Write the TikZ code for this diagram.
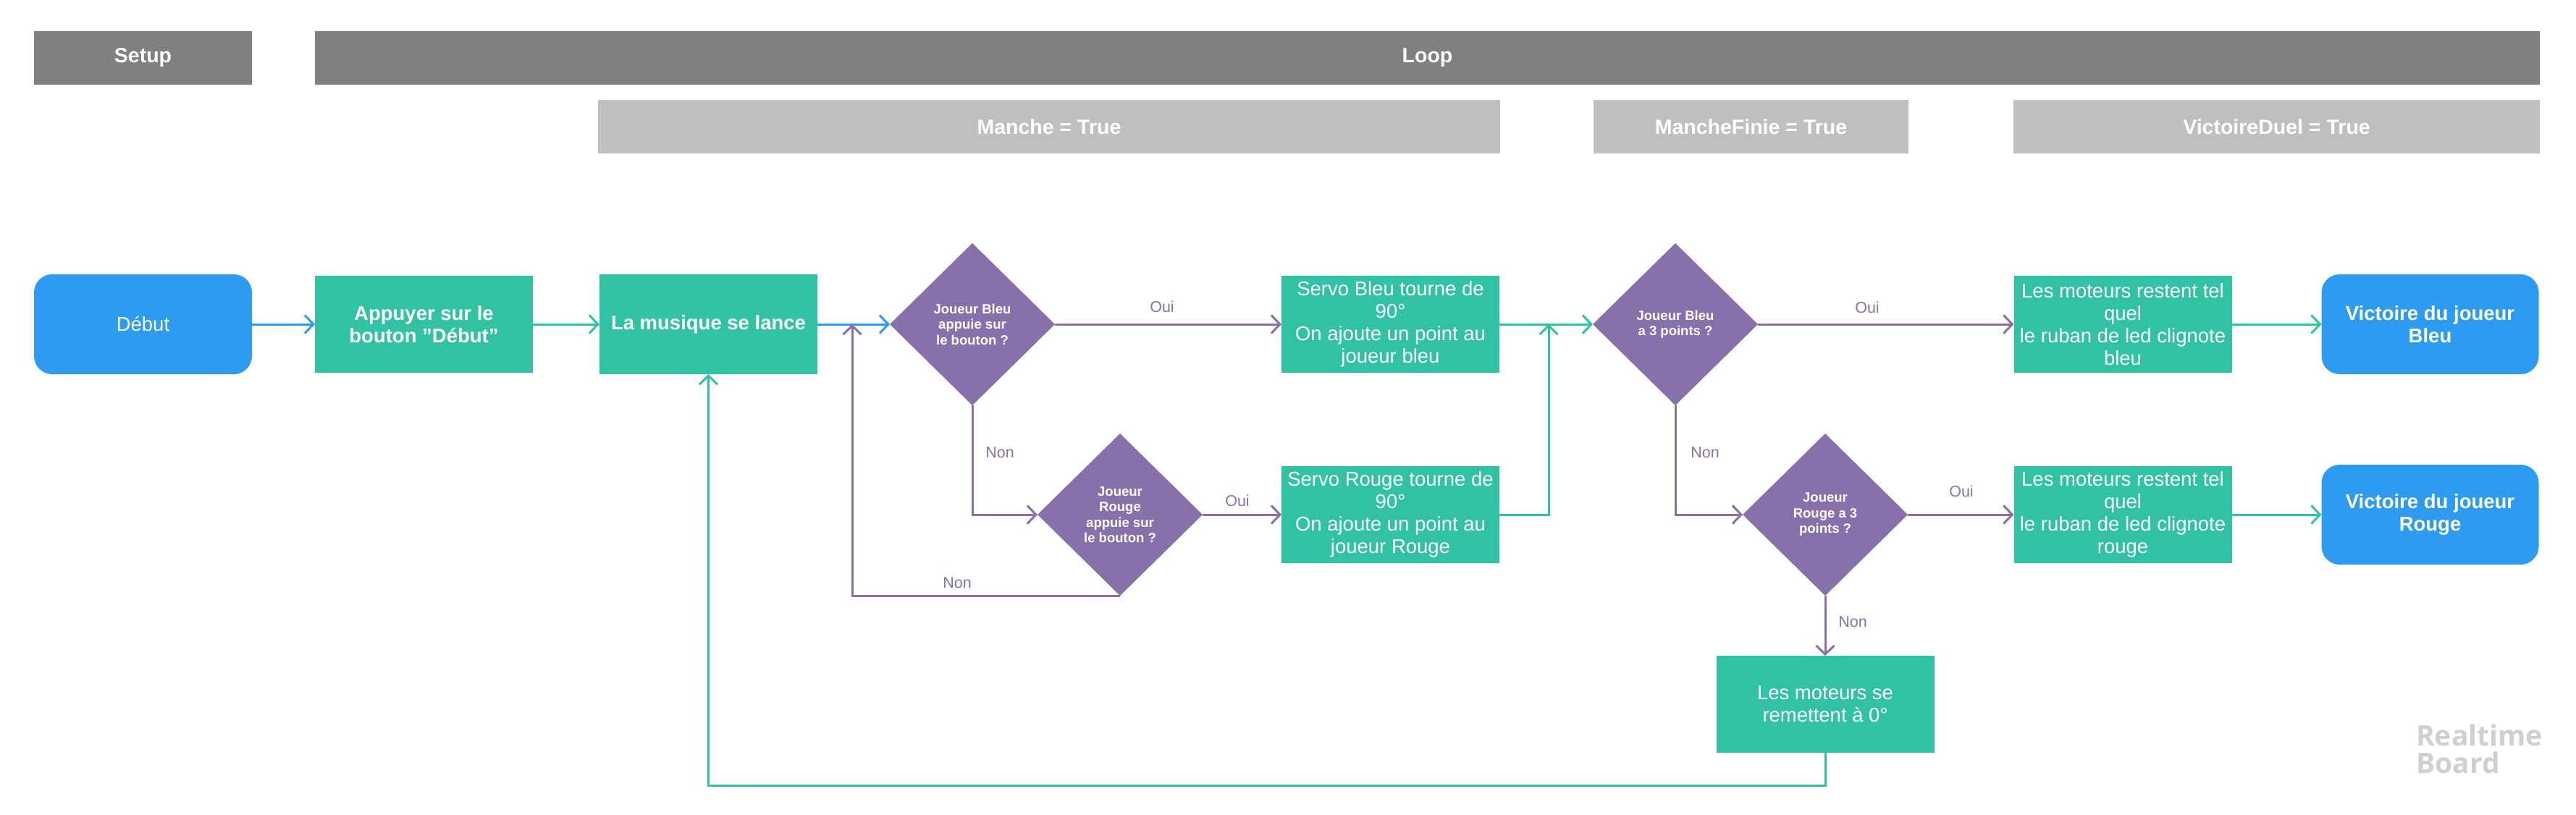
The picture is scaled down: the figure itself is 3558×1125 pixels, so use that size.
\documentclass[tikz,border=0pt]{standalone}
\usepackage{fontspec}
\setmainfont{Liberation Sans}
\newfontfamily\wmfont{Open Sans}
\usetikzlibrary{shapes.geometric,arrows.meta}
\definecolor{rbblue}{HTML}{2D9BF0}
\definecolor{rbteal}{HTML}{31C2A4}
\definecolor{rbpurple}{HTML}{8871AB}
\definecolor{hdark}{HTML}{808080}
\definecolor{hlight}{HTML}{BFBFBF}
\definecolor{wmgray}{HTML}{CFCFCF}
\newcommand\hdrfont{\bfseries\fontsize{28.5}{32}\selectfont}
\newcommand\boxfont{\fontsize{27.5}{31}\selectfont}
\newcommand\bboxfont{\bfseries\fontsize{27.5}{31}\selectfont}
\newcommand\decfont{\bfseries\fontsize{18.5}{21.5}\selectfont}
\newcommand\labfont{\fontsize{21.5}{25}\selectfont}
\tikzset{
  hdr/.style={fill=hdark, text=white, font=\hdrfont, minimum height=74pt, inner sep=0pt, outer sep=0pt},
  subhdr/.style={hdr, fill=hlight},
  term/.style={fill=rbblue, rounded corners=25pt, minimum width=301pt, minimum height=138pt, text=white, align=center, inner sep=0pt, outer sep=0pt, font=\boxfont},
  proc/.style={fill=rbteal, minimum width=301pt, minimum height=134pt, text=white, align=center, inner sep=0pt, outer sep=0pt, font=\boxfont},
  dec/.style={diamond, fill=rbpurple, minimum width=228pt, minimum height=224pt, text=white, align=center, inner sep=0pt, outer sep=0pt, font=\decfont},
  lab/.style={text=rbpurple, font=\labfont, inner sep=0pt},
  conn/.style={line width=3pt, -{Straight Barb[length=12pt,width=25pt]}},
  bconn/.style={conn, draw=rbblue},
  tconn/.style={conn, draw=rbteal},
  pconn/.style={conn, draw=rbpurple},
}
\begin{document}
\begin{tikzpicture}[x=1pt,y=-1pt]
\useasboundingbox (0,0) rectangle (3558,1125);
% headers
\node[hdr, minimum width=301pt] (setup) at (197.5,80) {Setup};
\node[hdr, minimum width=3073pt] (loop) at (1971.5,80) {Loop};
\node[subhdr, minimum width=1246pt] (manche) at (1449,175) {Manche = True};
\node[subhdr, minimum width=435pt] (finie) at (2418.5,175) {MancheFinie = True};
\node[subhdr, minimum width=727pt] (duel) at (3144.5,175) {VictoireDuel = True};
% nodes
\node[term] (debut) at (197.5,448) {Début};
\node[proc, font=\bboxfont] (appuyer) at (585.5,448) {Appuyer sur le\\bouton "Début"};
\node[proc, font=\bboxfont, minimum height=138pt] (musique) at (978.5,448) {La musique se lance};
\node[dec] (d1) at (1343,448) {Joueur Bleu\\appuie sur\\le bouton ?};
\node[dec] (d2) at (1547,711) {Joueur\\Rouge\\appuie sur\\le bouton ?};
\node[proc] (servoB) at (1920.5,448) {Servo Bleu tourne de\\90°\\On ajoute un point au\\joueur bleu};
\node[proc] (servoR) at (1920.5,711) {Servo Rouge tourne de\\90°\\On ajoute un point au\\joueur Rouge};
\node[dec] (d3) at (2314,448) {Joueur Bleu\\a 3 points ?};
\node[dec] (d4) at (2521,711) {Joueur\\Rouge a 3\\points ?};
\node[proc] (motB) at (2932,448) {Les moteurs restent tel\\quel\\le ruban de led clignote\\bleu};
\node[proc] (motR) at (2932,711) {Les moteurs restent tel\\quel\\le ruban de led clignote\\rouge};
\node[term, minimum width=300pt, font=\bboxfont] (vicB) at (3356.5,448) {Victoire du joueur\\Bleu};
\node[term, minimum width=300pt, font=\bboxfont] (vicR) at (3356.5,711) {Victoire du joueur\\Rouge};
\node[proc] (remet) at (2521,973) {Les moteurs se\\remettent à 0°};
% helper coordinates
\coordinate (m1) at (1177,448);
\coordinate (m2) at (2139,448);
\coordinate (r2) at (978.5,1085);
% connectors
\draw[bconn] (debut) -- (appuyer);
\draw[tconn] (appuyer) -- (musique);
\draw[bconn] (musique) -- (d1);
\draw[pconn] (d1) -- (servoB);
\draw[pconn] (d1.south) |- (d2.west);
\draw[pconn] (d2) -- (servoR);
\draw[pconn] (d2.south) -| (m1);
\draw[tconn] (servoB) -- (d3);
\draw[tconn] (servoR.east) -| (m2);
\draw[pconn] (d3) -- (motB);
\draw[pconn] (d3.south) |- (d4.west);
\draw[pconn] (d4) -- (motR);
\draw[pconn] (d4) -- (remet);
\draw[tconn] (motB) -- (vicB);
\draw[tconn] (motR) -- (vicR);
\draw[tconn] (remet.south) |- (r2) -- (musique.south);
% labels
\node[lab] (o1) at (1605,424) {Oui};
\node[lab] (n1) at (1381,625) {Non};
\node[lab] (o2) at (1709,692) {Oui};
\node[lab] (n2) at (1322,805) {Non};
\node[lab] (o3) at (2579,425) {Oui};
\node[lab] (n3) at (2355,625) {Non};
\node[lab] (o4) at (2709,679) {Oui};
\node[lab] (n4) at (2559,859) {Non};
% watermark
\node[anchor=north west, align=left, inner sep=0pt, text=wmgray, font=\wmfont\bfseries\fontsize{39}{38}\selectfont] (wm) at (3337,1001) {Realtime\\Board};
\end{tikzpicture}
\end{document}
